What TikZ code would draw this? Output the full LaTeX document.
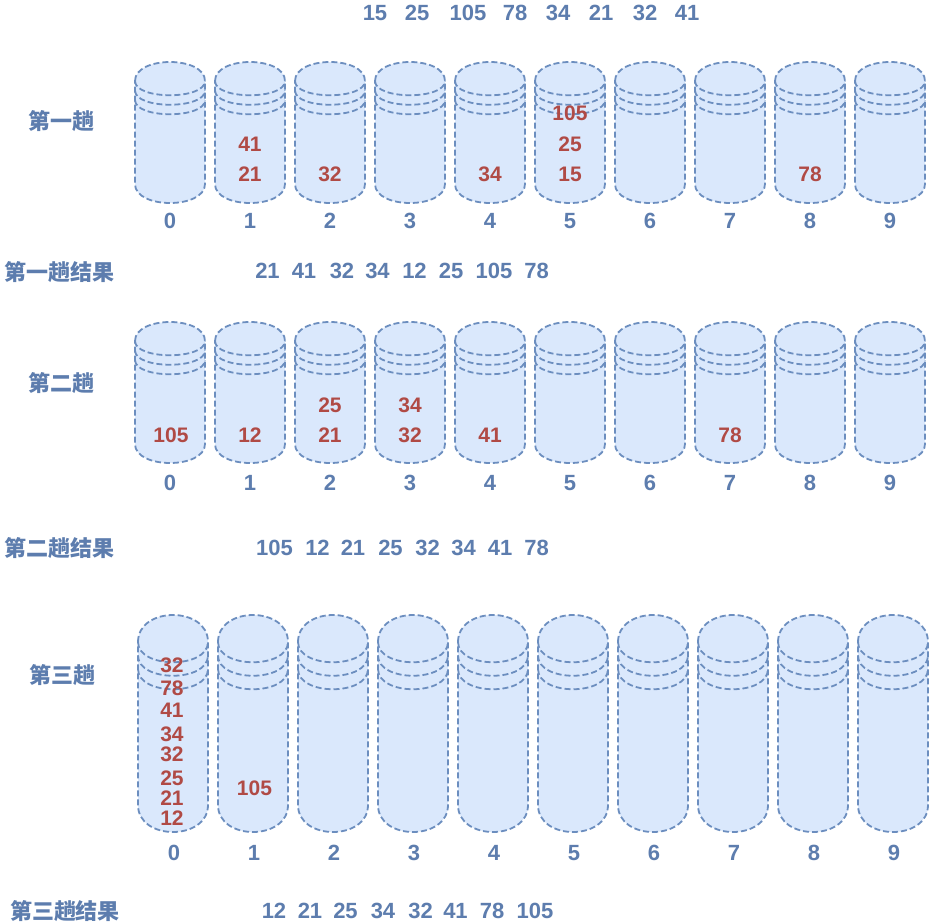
\documentclass[tikz,border=0pt]{standalone}
\usepackage{fontspec}
\setmainfont{Liberation Sans}
\newfontfamily\cjk{Noto Sans CJK SC}
\definecolor{bfill}{HTML}{DAE8FC}
\definecolor{bline}{HTML}{6C8EBF}
\definecolor{txtblue}{HTML}{5D7DAE}
\definecolor{txtred}{HTML}{B04A45}
\tikzset{
  bucketfill/.style={fill=bfill, draw=bline, line width=1.8pt, dash pattern=on 6pt off 3pt},
  bucketline/.style={draw=bline, line width=1.8pt, dash pattern=on 6pt off 3pt},
  bluenum/.style={inner sep=0pt, text height=15.8pt, text depth=0pt, text=txtblue, font=\bfseries\fontsize{22}{22}\selectfont},
  rednum/.style={inner sep=0pt, text height=15pt, text depth=0pt, text=txtred, font=\bfseries\fontsize{21}{21}\selectfont},
  cjklabel/.style={inner sep=0pt, text=txtblue, font=\cjk\bfseries\fontsize{22}{22}\selectfont},
}
% #1 left x, #2 top y, #3 width, #4 height, #5 dy
\newcommand{\drawbucket}[5]{%
  \begin{scope}[shift={(#1,#2)}]
    \path[bucketfill] (0,#5) .. controls (0,-#5/3) and (#3,-#5/3) .. (#3,#5) -- (#3,#4-#5) .. controls (#3,#4+#5/3) and (0,#4+#5/3) .. (0,#4-#5) -- cycle;
    \foreach \k in {0,1,2}{%
      \draw[bucketline] (0,{#5+\k*#5/2}) .. controls (0,{2*#5+\k*#5/2}) and (#3,{2*#5+\k*#5/2}) .. (#3,{#5+\k*#5/2});
    }
  \end{scope}}
\begin{document}
\begin{tikzpicture}[x=1pt,y=-1pt]
\useasboundingbox[fill=white] (0,0) rectangle (930,924);

% input sequence
\foreach \x/\t [count=\n] in {375/15,417/25,468/105,515/78,558/34,601/21,645/32,687/41}
  \node[bluenum] (in\n) at (\x,13) {\t};

% row 1
\node[cjklabel] (pass1) at (61,121) {第一趟};
\foreach \i in {0,...,9}{
  \drawbucket{135+80*\i}{62}{70}{141}{19}
  \node[bluenum] (lab1-\i) at (170+80*\i,221) {\i};
}
\foreach \x/\y/\t [count=\n] in {250/144/41,250/174/21,330/174/32,490/174/34,570/113/105,570/144/25,570/174/15,810/174/78}
  \node[rednum] (b1-\n) at (\x,\y) {\t};

\node[cjklabel] (res1) at (60,272) {第一趟结果};
\foreach \x/\t [count=\n] in {267.5/21,304/41,342/32,377.5/34,414.5/12,451/25,494/105,536.5/78}
  \node[bluenum] (r1-\n) at (\x,271) {\t};

% row 2
\node[cjklabel] (pass2) at (61,383) {第二趟};
\foreach \i in {0,...,9}{
  \drawbucket{135+80*\i}{322}{70}{141}{19}
  \node[bluenum] (lab2-\i) at (170+80*\i,483) {\i};
}
\foreach \x/\y/\t [count=\n] in {171/434.5/105,250/434.5/12,330/404.5/25,330/434.5/21,410/404.5/34,410/434.5/32,490/434.5/41,730/434.5/78}
  \node[rednum] (b2-\n) at (\x,\y) {\t};

\node[cjklabel] (res2) at (60,548) {第二趟结果};
\foreach \x/\t [count=\n] in {274.5/105,317.5/12,353/21,390.5/25,427.5/32,463.5/34,500/41,536.5/78}
  \node[bluenum] (r2-\n) at (\x,548) {\t};

% row 3
\node[cjklabel] (pass3) at (63,675) {第三趟};
\foreach \i in {0,...,9}{
  \drawbucket{138+80*\i}{615}{70}{217}{27}
  \node[bluenum] (lab3-\i) at (174+80*\i,852.5) {\i};
}
\foreach \x/\y/\t [count=\n] in {172/665/32,172/687.5/78,172/709.5/41,172/733.5/34,172/753.5/32,172/777.5/25,172/798/21,172/817.5/12,254.5/787.5/105}
  \node[rednum] (b3-\n) at (\x,\y) {\t};

\node[cjklabel] (res3) at (65,911) {第三趟结果};
\foreach \x/\t [count=\n] in {274/12,310/21,345.5/25,383/34,420.5/32,455.5/41,492/78,535/105}
  \node[bluenum] (r3-\n) at (\x,911) {\t};
\end{tikzpicture}
\end{document}
